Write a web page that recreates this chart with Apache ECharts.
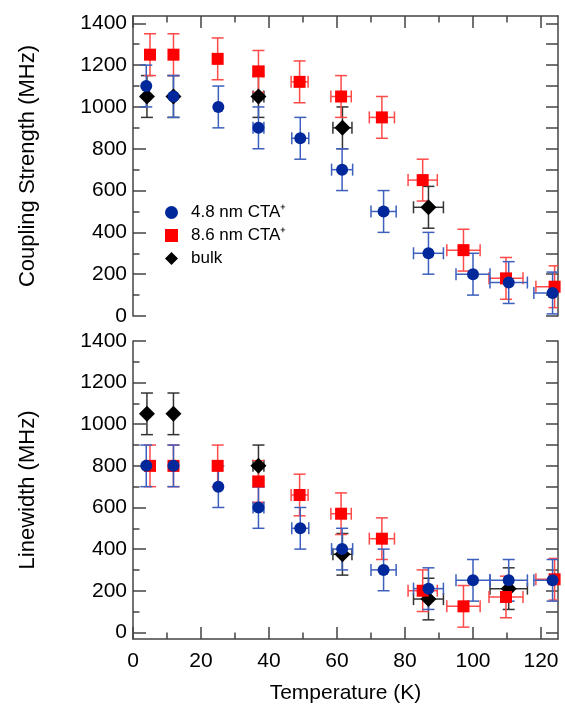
<!DOCTYPE html>
<html><head><meta charset="utf-8">
<script src="https://cdn.jsdelivr.net/npm/echarts@6/dist/echarts.min.js"></script>
<style>html,body{margin:0;padding:0;background:#fff}#c{width:565px;height:715px}</style>
</head><body><div id="c"></div>
<script>
// ---- tick labels / axis values ----
const xMajorTicks = [0, 20, 40, 60, 80, 100, 120];
const xMinorTicks = [10, 30, 50, 70, 90, 110];
const yMajorTicks = [0, 200, 400, 600, 800, 1000, 1200, 1400];
const yMinorTicks = [100, 300, 500, 700, 900, 1100, 1300];
const yRightTicks = [0, 100, 200, 300, 400, 500, 600, 700, 800, 900, 1000, 1100, 1200, 1300, 1400];
const legendNames = ['4.8 nm CTA\u207A', '8.6 nm CTA\u207A', 'bulk'];

// ---- 4.8 nm CTA+ ----
const temp48 = [3.9, 11.9, 25.1, 36.9, 49.2, 61.5, 73.7, 86.9, 100.0, 110.5, 123.4];
const tErr48 = [0, 0, 0, 1.6, 2.5, 3.1, 3.7, 4.4, 5.0, 5.5, 5.5];
const coupling48 = [1100, 1050, 1000, 900, 850, 700, 500, 300, 200, 160, 110];
const couplingErr48 = [100, 100, 100, 100, 100, 100, 100, 100, 100, 100, 100];
const linewidth48 = [800, 800, 700, 600, 500, 400, 300, 210, 250, 250, 250];
const linewidthErr48 = [100, 100, 100, 100, 100, 100, 100, 100, 100, 100, 100];

// ---- 8.6 nm CTA+ ----
const temp86 = [5.0, 11.9, 24.9, 36.9, 49.0, 61.2, 73.2, 85.2, 97.2, 109.7, 124.0];
const tErr86 = [0, 0, 0, 1.6, 2.5, 3.0, 3.7, 4.3, 4.9, 5.0, 5.5];
const coupling86 = [1250, 1250, 1230, 1170, 1120, 1050, 950, 650, 315, 180, 140];
const couplingErr86 = [100, 100, 100, 100, 100, 100, 100, 100, 100, 100, 100];
const linewidth86 = [800, 800, 800, 725, 660, 570, 450, 200, 125, 170, 255];
const linewidthErr86 = [100, 100, 100, 100, 100, 100, 100, 100, 100, 100, 100];

// ---- bulk ----
const tempBulkC = [4.1, 11.9, 36.9, 61.6, 86.9];
const tErrBulkC = [0, 0, 1.6, 2.8, 4.4];
const couplingBulk = [1050, 1050, 1050, 900, 520];
const couplingErrBulk = [100, 100, 100, 100, 100];
const tempBulkL = [4.1, 11.9, 36.9, 61.6, 86.9, 110.5];
const tErrBulkL = [0, 0, 1.6, 2.8, 4.4, 5.5];
const linewidthBulk = [1050, 1050, 800, 375, 160, 210];
const linewidthErrBulk = [100, 100, 100, 100, 100, 100];

const BLUE = '#00289a', RED = '#ff0000', BLACK = '#000000';
const BLUE_ERR = '#3d5fbd', RED_ERR = '#ff4a4a', BLACK_ERR = '#333333';
const AX = '#444444';
const FONT = "'Liberation Sans', Arial, Helvetica, sans-serif";
const plain = v => String(v);

function errRender(color) {
  return function (params, api) {
    const x = api.value(0), y = api.value(1), xe = api.value(2), ye = api.value(3);
    const cap = 6;
    const style = { stroke: color, lineWidth: 1.5 };
    const ch = [];
    if (ye > 0) {
      const p1 = api.coord([x, y - ye]), p2 = api.coord([x, y + ye]);
      ch.push({ type: 'line', shape: { x1: p1[0], y1: p1[1], x2: p2[0], y2: p2[1] }, style });
      ch.push({ type: 'line', shape: { x1: p1[0] - cap, y1: p1[1], x2: p1[0] + cap, y2: p1[1] }, style });
      ch.push({ type: 'line', shape: { x1: p2[0] - cap, y1: p2[1], x2: p2[0] + cap, y2: p2[1] }, style });
    }
    if (xe > 0) {
      const q1 = api.coord([x - xe, y]), q2 = api.coord([x + xe, y]);
      ch.push({ type: 'line', shape: { x1: q1[0], y1: q1[1], x2: q2[0], y2: q2[1] }, style });
      ch.push({ type: 'line', shape: { x1: q1[0], y1: q1[1] - cap, x2: q1[0], y2: q1[1] + cap }, style });
      ch.push({ type: 'line', shape: { x1: q2[0], y1: q2[1] - cap, x2: q2[0], y2: q2[1] + cap }, style });
    }
    return { type: 'group', children: ch };
  };
}

function errSeries(temps, tErr, vals, vErr, color, xi, yi) {
  return {
    type: 'custom', xAxisIndex: xi, yAxisIndex: yi, clip: true, z: 2, silent: true,
    renderItem: errRender(color),
    encode: { x: 0, y: 1 },
    data: temps.map((t, i) => [t, vals[i], tErr[i], vErr[i]])
  };
}
function ptSeries(name, temps, vals, symbol, size, color, xi, yi, z) {
  return {
    type: 'scatter', name, xAxisIndex: xi, yAxisIndex: yi, symbol, symbolSize: size, z,
    itemStyle: { color, opacity: 1 },
    data: temps.map((t, i) => [t, vals[i]])
  };
}

function xAxes(gridIndex, pos, withLabels, name) {
  const base = {
    gridIndex, type: 'value', min: 0, max: 125, position: pos,
    splitLine: { show: false },
    axisLine: { onZero: false, show: true, lineStyle: { color: AX, width: 1.5 } }
  };
  return [
    Object.assign({}, base, {
      name: name || '', nameLocation: 'middle', nameGap: 44,
      nameTextStyle: { fontSize: 21, color: '#000', fontFamily: FONT },
      axisTick: { show: true, inside: true, length: 12, customValues: xMajorTicks, lineStyle: { color: AX, width: 1.5 } },
      axisLabel: { show: withLabels, customValues: xMajorTicks, formatter: plain, fontSize: 21, color: '#000', margin: 12, fontFamily: FONT }
    }),
    Object.assign({}, base, {
      axisLine: { onZero: false, show: false },
      axisTick: { show: true, inside: true, length: 6.5, customValues: xMinorTicks, lineStyle: { color: AX, width: 1.5 } },
      axisLabel: { show: false }
    })
  ];
}
function yAxes(gridIndex, min, max, name) {
  const base = {
    gridIndex, type: 'value', min, max, splitLine: { show: false },
    axisLine: { onZero: false, show: true, lineStyle: { color: AX, width: 1.5 } }
  };
  return [
    Object.assign({}, base, {
      position: 'left', name, nameLocation: 'middle', nameGap: 94,
      nameTextStyle: { fontSize: 22, color: '#000', fontFamily: FONT },
      axisTick: { show: true, inside: true, length: 13, customValues: yMajorTicks, lineStyle: { color: AX, width: 1.5 } },
      axisLabel: { show: true, customValues: yMajorTicks, formatter: plain, fontSize: 21, color: '#000', margin: 6, fontFamily: FONT }
    }),
    Object.assign({}, base, {
      position: 'left', axisLine: { onZero: false, show: false },
      axisTick: { show: true, inside: true, length: 6.5, customValues: yMinorTicks, lineStyle: { color: AX, width: 1.5 } },
      axisLabel: { show: false }
    }),
    Object.assign({}, base, {
      position: 'right',
      axisTick: { show: true, inside: true, length: 12, customValues: yRightTicks, lineStyle: { color: AX, width: 1.5 } },
      axisLabel: { show: false }
    })
  ];
}

const option = {
  animation: false,
  backgroundColor: '#fff',
  textStyle: { fontFamily: FONT },
  grid: [
    { left: 133, right: 7, top: 16, height: 300 },
    { left: 133, right: 7, top: 341, bottom: 76 }
  ],
  xAxis: [].concat(xAxes(0, 'top', false), xAxes(1, 'bottom', true, 'Temperature (K)')),
  yAxis: [].concat(yAxes(0, 0, 1435, 'Coupling Strength (MHz)'), yAxes(1, -32, 1400, 'Linewidth (MHz)')),
  legend: {
    orient: 'vertical', left: 160, top: 199, itemGap: 6, itemWidth: 13, itemHeight: 13,
    data: [
      { name: legendNames[0], icon: 'circle' },
      { name: legendNames[1], icon: 'rect' },
      { name: legendNames[2], icon: 'diamond' }
    ],
    textStyle: { fontSize: 17, color: '#000', fontFamily: FONT, padding: [0, 0, 0, 8], lineHeight: 17 }
  },
  series: [
    // top panel (x axis 0, y axis 0)
    errSeries(tempBulkC, tErrBulkC, couplingBulk, couplingErrBulk, BLACK_ERR, 0, 0),
    errSeries(temp86, tErr86, coupling86, couplingErr86, RED_ERR, 0, 0),
    errSeries(temp48, tErr48, coupling48, couplingErr48, BLUE_ERR, 0, 0),
    ptSeries(legendNames[2], tempBulkC, couplingBulk, 'diamond', 16, BLACK, 0, 0, 3),
    ptSeries(legendNames[1], temp86, coupling86, 'rect', 12, RED, 0, 0, 4),
    ptSeries(legendNames[0], temp48, coupling48, 'circle', 12, BLUE, 0, 0, 5),
    // bottom panel (x axis 2, y axis 3)
    errSeries(tempBulkL, tErrBulkL, linewidthBulk, linewidthErrBulk, BLACK_ERR, 2, 3),
    errSeries(temp86, tErr86, linewidth86, linewidthErr86, RED_ERR, 2, 3),
    errSeries(temp48, tErr48, linewidth48, linewidthErr48, BLUE_ERR, 2, 3),
    ptSeries(legendNames[2], tempBulkL, linewidthBulk, 'diamond', 16, BLACK, 2, 3, 3),
    ptSeries(legendNames[1], temp86, linewidth86, 'rect', 12, RED, 2, 3, 4),
    ptSeries(legendNames[0], temp48, linewidth48, 'circle', 12, BLUE, 2, 3, 5)
  ]
};
const chart = echarts.init(document.getElementById('c'), null, { renderer: 'canvas' });
chart.setOption(option);
</script>
</body></html>
